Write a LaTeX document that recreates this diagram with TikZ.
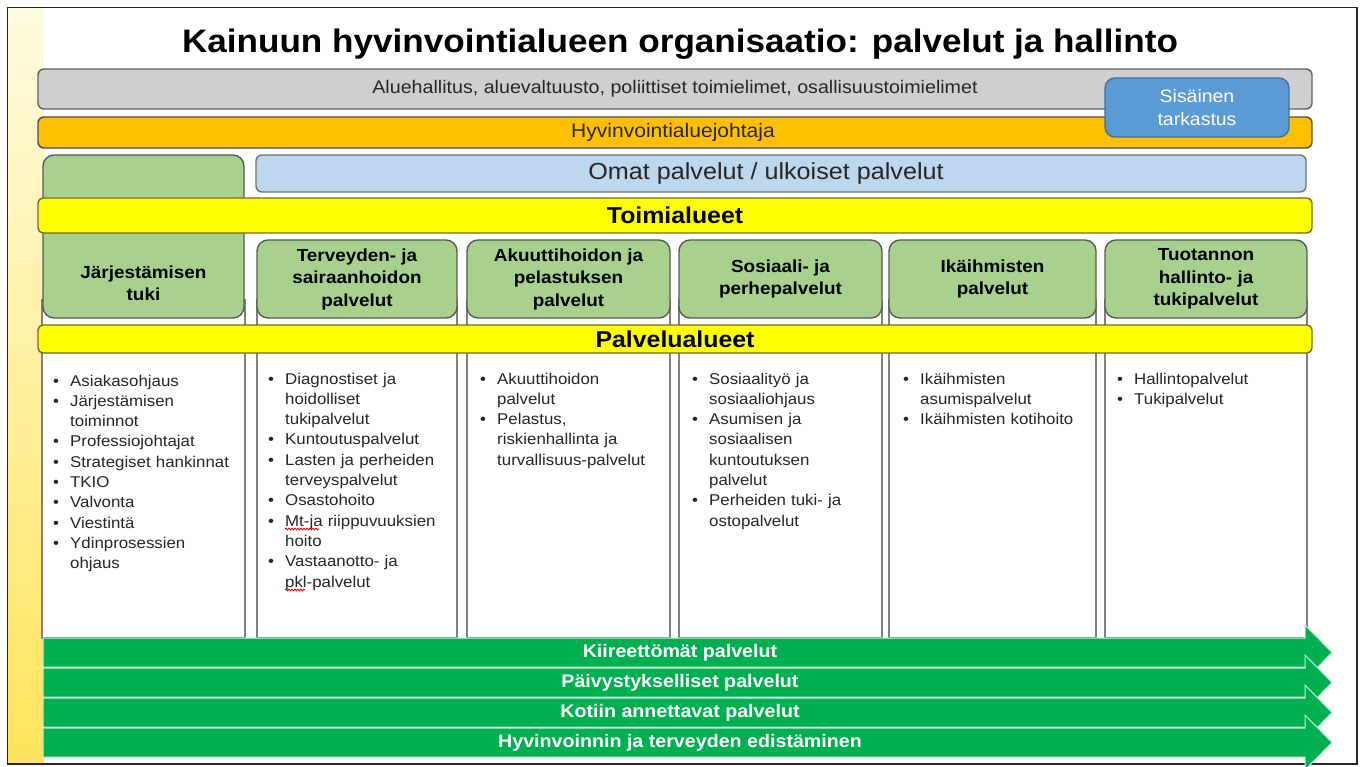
\documentclass[tikz,border=0pt]{standalone}
\usepackage{fontspec}
\setmainfont{Liberation Sans}[FakeStretch=1.08]
\usetikzlibrary{decorations.pathmorphing}
\definecolor{gbarfill}{HTML}{D0CECE}
\definecolor{orng}{HTML}{FFC000}
\definecolor{lblue}{HTML}{BDD7EE}
\definecolor{mblue}{HTML}{5B9BD5}
\definecolor{mbluedk}{HTML}{41719C}
\definecolor{ylw}{HTML}{FFFF00}
\definecolor{ylwdk}{HTML}{6E6E1E}
\definecolor{hgreen}{HTML}{A9D18E}
\definecolor{agreen}{HTML}{00B050}
\definecolor{asep}{HTML}{C8EBDD}
\definecolor{bgylw}{HTML}{FFD800}
\definecolor{bgylwl}{HTML}{FFE45C}
\definecolor{bgtop}{HTML}{FFFBE0}
\newcommand\fs[2]{\fontsize{#1}{#2}\selectfont}
\newcommand\bi[1]{\hangindent=17pt\hangafter=1\noindent\makebox[17pt][l]{•}#1\par}
\tikzset{
  barbox/.style={draw=black!62, line width=1.4pt, rounded corners=6pt, inner sep=0pt},
  hdr/.style={draw=black!65, fill=hgreen, line width=1.4pt, rounded corners=11pt, inner sep=0pt, align=center, font=\bfseries\fs{17.5}{22.5}},
  colbody/.style={draw=black!50, fill=white, line width=1.3pt},
  bodytxt/.style={anchor=base west, text width=200pt, align=left, inner sep=0pt, font=\fs{15.6}{20.3}, text=black!85},
  arr/.style={fill=agreen, draw=asep, line width=1pt},
  arrtxt/.style={text=white, font=\bfseries\fs{18.2}{20}, inner sep=0pt},
  spell/.style={draw=red!85!black, line width=0.8pt, decorate, decoration={snake, amplitude=0.9pt, segment length=3pt}}
}
\begin{document}
\begin{tikzpicture}[x=1pt,y=-1pt]
\useasboundingbox (0,0) rectangle (1365,767);
\fill[white] (0,0) rectangle (1365,767);
% background yellow glow
\shade[top color=bgtop, middle color=bgylw, bottom color=bgylwl] (8,8) rectangle (44,764);
% frame
\draw[black!85, line width=1.5pt] (7.5,7.5) rectangle (1357,764);
% title
\node[anchor=base, font=\bfseries\fs{32.5}{36}, inner sep=0pt] (title) at (680,53) {Kainuun hyvinvointialueen organisaatio: palvelut ja hallinto};
% top bars
\node[barbox, fill=gbarfill, minimum width=1274, minimum height=40, font=\fs{18.2}{20}, text=black!85] (gov) at (675,89) {Aluehallitus, aluevaltuusto, poliittiset toimielimet, osallisuustoimielimet};
\node[barbox, draw=black!70, fill=orng, minimum width=1274, minimum height=31] (lead) at (675,132.5) {};
\node[font=\fs{19.5}{20}, text=black!85, inner sep=0pt] (leadt) at (673,132.5) {Hyvinvointialuejohtaja};
\node[barbox, draw=mbluedk, fill=mblue, rounded corners=10pt, minimum width=184, minimum height=59, text=white, align=center, font=\fs{18}{23}] (audit) at (1197,107.5) {Sis\"ainen\\tarkastus};
\node[barbox, fill=lblue, draw=black!55, minimum width=1050, minimum height=37] (own) at (781,173.5) {};
\node[font=\fs{23.3}{24}, text=black!85, inner sep=0pt] (ownt) at (766,173.5) {Omat palvelut / ulkoiset palvelut};
% column bodies
\draw[colbody] (42,300) rectangle (245,638);
\draw[colbody] (257,300) rectangle (457,638);
\draw[colbody] (467,300) rectangle (670,638);
\draw[colbody] (679,300) rectangle (882,638);
\draw[colbody] (889,300) rectangle (1096,638);
\draw[colbody] (1105,300) rectangle (1307,638);
% left green box
\node[hdr, minimum width=201, minimum height=163] (h1) at (143.5,236.5) {};
% Toimialueet bar
\node[barbox, draw=ylwdk, fill=ylw, rounded corners=5pt, minimum width=1274, minimum height=35, font=\bfseries\fs{23}{24}] (toimi) at (675,215.5) {Toimialueet};
\node[font=\bfseries\fs{17.5}{22.5}, align=center, inner sep=0pt] (h1t) at (143.5,283) {J\"arjest\"amisen\\tuki};
% headers
\node[hdr, minimum width=200, minimum height=78] (h2) at (357,279) {Terveyden- ja\\sairaanhoidon\\palvelut};
\node[hdr, minimum width=203, minimum height=78] (h3) at (568.5,279) {Akuuttihoidon ja\\pelastuksen\\palvelut};
\node[hdr, minimum width=203, minimum height=78] (h4) at (780.5,279) {Sosiaali- ja\\perhepalvelut};
\node[hdr, minimum width=207, minimum height=78] (h5) at (992.5,279) {Ik\"aihmisten\\palvelut};
\node[hdr, minimum width=202, minimum height=78] (h6) at (1206,279) {Tuotannon\\hallinto- ja\\tukipalvelut};
% Palvelualueet bar
\node[barbox, draw=ylwdk, fill=ylw, rounded corners=5pt, minimum width=1274, minimum height=28, font=\bfseries\fs{23}{24}] (palv) at (675,339) {Palvelualueet};
% body texts
\node[bodytxt] (b1) at (53,386) {\bi{Asiakasohjaus}\bi{J\"arjest\"amisen\newline toiminnot}\bi{Professiojohtajat}\bi{Strategiset hankinnat}\bi{TKIO}\bi{Valvonta}\bi{Viestint\"a}\bi{Ydinprosessien\newline ohjaus}};
\node[bodytxt] (b2) at (268,384) {\bi{Diagnostiset ja\newline hoidolliset\newline tukipalvelut}\bi{Kuntoutuspalvelut}\bi{Lasten ja perheiden\newline terveyspalvelut}\bi{Osastohoito}\bi{Mt-ja riippuvuuksien\newline hoito}\bi{Vastaanotto- ja\newline pkl-palvelut}};
\node[bodytxt] (b3) at (480,384) {\bi{Akuuttihoidon\newline palvelut}\bi{Pelastus,\newline riskienhallinta ja\newline turvallisuus-palvelut}};
\node[bodytxt] (b4) at (692,384) {\bi{Sosiaality\"o ja\newline sosiaaliohjaus}\bi{Asumisen ja\newline sosiaalisen\newline kuntoutuksen\newline palvelut}\bi{Perheiden tuki- ja\newline ostopalvelut}};
\node[bodytxt] (b5) at (903,384) {\bi{Ik\"aihmisten\newline asumispalvelut}\bi{Ik\"aihmisten kotihoito}};
\node[bodytxt] (b6) at (1117,384) {\bi{Hallintopalvelut}\bi{Tukipalvelut}};
% spell-check underlines
\draw[spell] (285,529) -- (319,529);
\draw[spell] (285,590) -- (305,590);
% green arrows
\foreach \i/\t in {0/{Kiireett\"om\"at palvelut},1/{P\"aivystykselliset palvelut},2/{Kotiin annettavat palvelut},3/{Hyvinvoinnin ja terveyden edist\"aminen}}{
  \pgfmathsetmacro\top{638+30*\i}
  \pgfmathsetmacro\bot{667+30*\i}
  \pgfmathsetmacro\mid{652.5+30*\i}
  \pgfmathsetmacro\htop{625+30*\i}
  \pgfmathsetmacro\hbot{680+30*\i}
  \draw[arr] (43,\top) -- (1305,\top) -- (1305,\htop) -- (1332,\mid) -- (1305,\hbot) -- (1305,\bot) -- (43,\bot) -- cycle;
  \node[arrtxt] (arrow\i) at (680,\mid) {\t};
}
\end{tikzpicture}
\end{document}
